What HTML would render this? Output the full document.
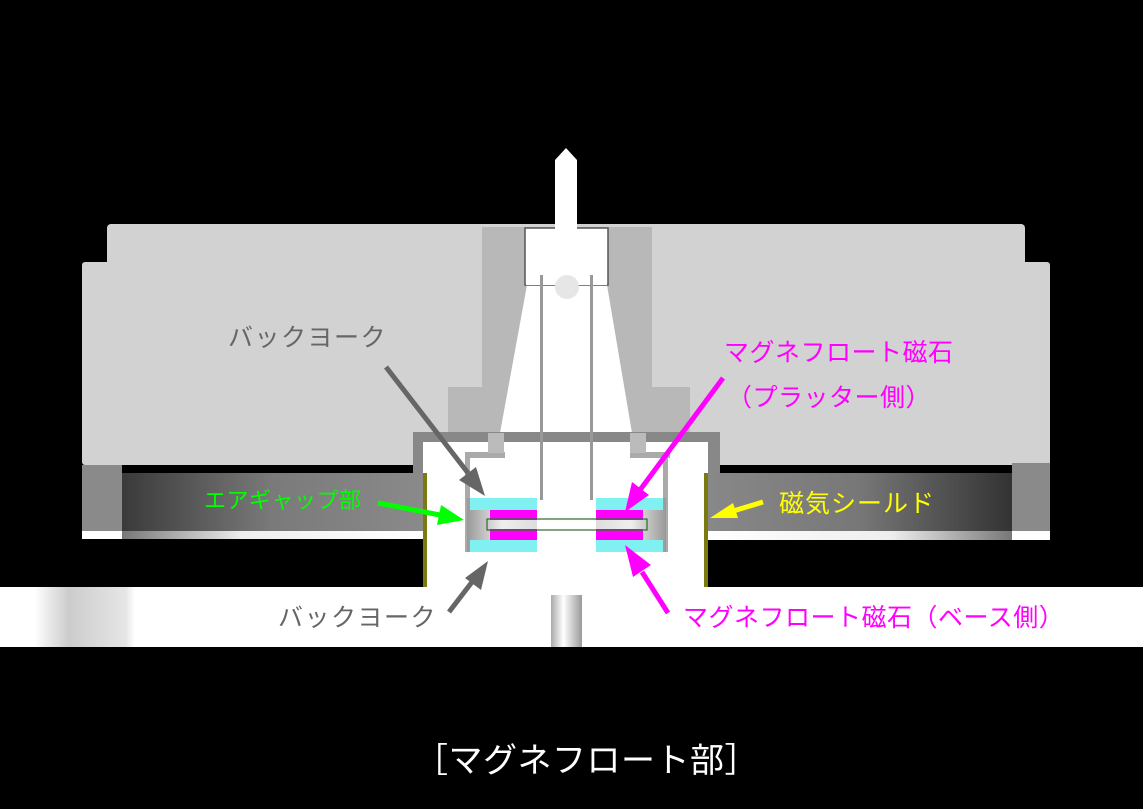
<!DOCTYPE html>
<html><head><meta charset="utf-8"><style>
html,body{margin:0;padding:0;background:#000;}
svg{display:block}
text{font-family:"Liberation Sans","Noto Sans CJK JP",sans-serif;}
</style></head><body>
<svg width="1143" height="809" viewBox="0 0 1143 809" xmlns="http://www.w3.org/2000/svg">
<defs>
<linearGradient id="band" x1="0" x2="1" y1="0" y2="0">
<stop offset="0" stop-color="#3a3a3a"/><stop offset="0.5" stop-color="#7a7a7a"/><stop offset="1" stop-color="#8a8a8a"/></linearGradient>
<linearGradient id="bandR" x1="0" x2="1" y1="0" y2="0">
<stop offset="0" stop-color="#888"/><stop offset="0.5" stop-color="#777"/><stop offset="1" stop-color="#333"/></linearGradient>
<linearGradient id="strip" x1="0" x2="1"><stop offset="0" stop-color="#777"/><stop offset="0.4" stop-color="#eee"/><stop offset="1" stop-color="#fff"/></linearGradient>
<linearGradient id="stripR" x1="0" x2="1"><stop offset="0" stop-color="#fff"/><stop offset="0.6" stop-color="#eee"/><stop offset="1" stop-color="#777"/></linearGradient>
<linearGradient id="yokeL" x1="0" x2="1"><stop offset="0" stop-color="#999"/><stop offset="0.5" stop-color="#eee"/><stop offset="1" stop-color="#ddd"/></linearGradient>
<linearGradient id="yokeR" x1="0" x2="1"><stop offset="0" stop-color="#ddd"/><stop offset="0.5" stop-color="#eee"/><stop offset="1" stop-color="#999"/></linearGradient>
<linearGradient id="bot" x1="0" x2="1"><stop offset="0" stop-color="#fff"/><stop offset="0.03" stop-color="#fff"/><stop offset="0.06" stop-color="#ccc"/><stop offset="0.11" stop-color="#e6e6e6"/><stop offset="0.118" stop-color="#fff"/><stop offset="1" stop-color="#fff"/></linearGradient>
<linearGradient id="shaft" x1="0" x2="1"><stop offset="0" stop-color="#aaa"/><stop offset="0.4" stop-color="#fff"/><stop offset="1" stop-color="#999"/></linearGradient>
</defs>
<rect width="1143" height="809" fill="#000"/>
<rect x="0" y="587" width="1143" height="60" fill="url(#bot)"/>
<rect x="107" y="224" width="918" height="241" fill="#d2d2d2" rx="4"/>
<rect x="82" y="262" width="968" height="203" fill="#d2d2d2" rx="3"/>
<rect x="482" y="227" width="170" height="160" fill="#b8b8b8"/>
<rect x="448" y="387" width="242" height="46" fill="#b8b8b8"/>
<polygon points="527,285 607,285 632,433 500,433" fill="#fff"/>
<rect x="525" y="228" width="83" height="57" fill="#fff" stroke="#555" stroke-width="1.5"/>
<rect x="526" y="255" width="81" height="30" fill="#fff"/>
<polygon points="555,160 566,148 577,160 577,285 555,285" fill="#fff"/>
<circle cx="567" cy="287" r="12" fill="#e6e6e6"/>
<rect x="82" y="465" width="40" height="66" fill="#8a8a8a"/>
<rect x="122" y="473" width="301" height="58" fill="url(#band)"/>
<rect x="82" y="531" width="40" height="8" fill="#fff"/>
<rect x="122" y="531" width="301" height="8" fill="url(#strip)"/>
<rect x="1012" y="463" width="38" height="68" fill="#8a8a8a"/>
<rect x="708" y="473" width="304" height="58" fill="url(#bandR)"/>
<rect x="1012" y="531" width="38" height="9" fill="#fff"/>
<rect x="708" y="531" width="304" height="9" fill="url(#stripR)"/>
<rect x="413" y="432" width="307" height="41" fill="#888"/>
<rect x="423" y="442" width="285" height="145" fill="#fff"/>
<rect x="465" y="452" width="40" height="6" fill="#aaa"/>
<rect x="630" y="452" width="40" height="6" fill="#aaa"/>
<rect x="465" y="452" width="5" height="100" fill="#aaa"/>
<rect x="663" y="452" width="5" height="100" fill="#aaa"/>
<rect x="488" y="433" width="16" height="20" fill="#bbb"/>
<rect x="630" y="433" width="16" height="20" fill="#bbb"/>
<rect x="423" y="473" width="4" height="114" fill="#7a7a10"/>
<rect x="704" y="473" width="4" height="114" fill="#7a7a10"/>
<rect x="540" y="275" width="3" height="225" fill="#999"/>
<rect x="590" y="275" width="3" height="225" fill="#999"/>
<rect x="467" y="498" width="70" height="54" fill="url(#yokeL)"/>
<rect x="596" y="498" width="70" height="54" fill="url(#yokeR)"/>
<rect x="470" y="498" width="67" height="12" fill="#80f0f0"/>
<rect x="470" y="540" width="67" height="12" fill="#80f0f0"/>
<rect x="490" y="510" width="47" height="10" fill="#f0f"/>
<rect x="490" y="529" width="47" height="11" fill="#f0f"/>
<rect x="596" y="498" width="67" height="12" fill="#80f0f0"/>
<rect x="596" y="540" width="67" height="12" fill="#80f0f0"/>
<rect x="596" y="510" width="47" height="10" fill="#f0f"/>
<rect x="596" y="529" width="47" height="11" fill="#f0f"/>
<rect x="487" y="519" width="160" height="11" fill="none" stroke="#2a6a2a" stroke-width="1.2"/>
<rect x="551" y="595" width="31" height="52" fill="url(#shaft)"/>
<g stroke-width="5" stroke-linecap="butt">
<line x1="386" y1="367" x2="468" y2="473" stroke="#666"/>
<polygon points="485,496 459,480 476,467" fill="#666"/>
<line x1="449" y1="612" x2="472" y2="582" stroke="#666"/>
<polygon points="488,561 481,590 465,578" fill="#666"/>
<line x1="378" y1="503" x2="440" y2="515" stroke="#0f0"/>
<polygon points="464,520 437,525 441,505" fill="#0f0"/>
<line x1="723" y1="378" x2="640" y2="490" stroke="#f0f"/>
<polygon points="625,512 632,482 649,495" fill="#f0f"/>
<line x1="668" y1="613" x2="642" y2="572" stroke="#f0f"/>
<polygon points="625,545 651,565 633,577" fill="#f0f"/>
<line x1="763" y1="502" x2="730" y2="512" stroke="#ff0"/>
<polygon points="710,518 733,503 738,518" fill="#ff0"/>
</g>
<text x="228" y="346" font-size="25" fill="#666" letter-spacing="1.5">バックヨーク</text>
<text x="724" y="361" font-size="25" fill="#f0f" letter-spacing="0.5">マグネフロート磁石</text>
<text x="727" y="406" font-size="25" fill="#f0f" letter-spacing="0.5">（プラッター側）</text>
<text x="204" y="508" font-size="22" fill="#0f0" letter-spacing="0.5">エアギャップ部</text>
<text x="779" y="512" font-size="25" fill="#ff0" letter-spacing="1">磁気シールド</text>
<text x="278" y="626" font-size="25" fill="#666" letter-spacing="1.5">バックヨーク</text>
<text x="683" y="626" font-size="25" fill="#f0f" letter-spacing="0.5">マグネフロート磁石（ベース側）</text>
<text x="414" y="772" font-size="34" fill="#fff" letter-spacing="0.5">［マグネフロート部］</text>
</svg>
</body></html>
